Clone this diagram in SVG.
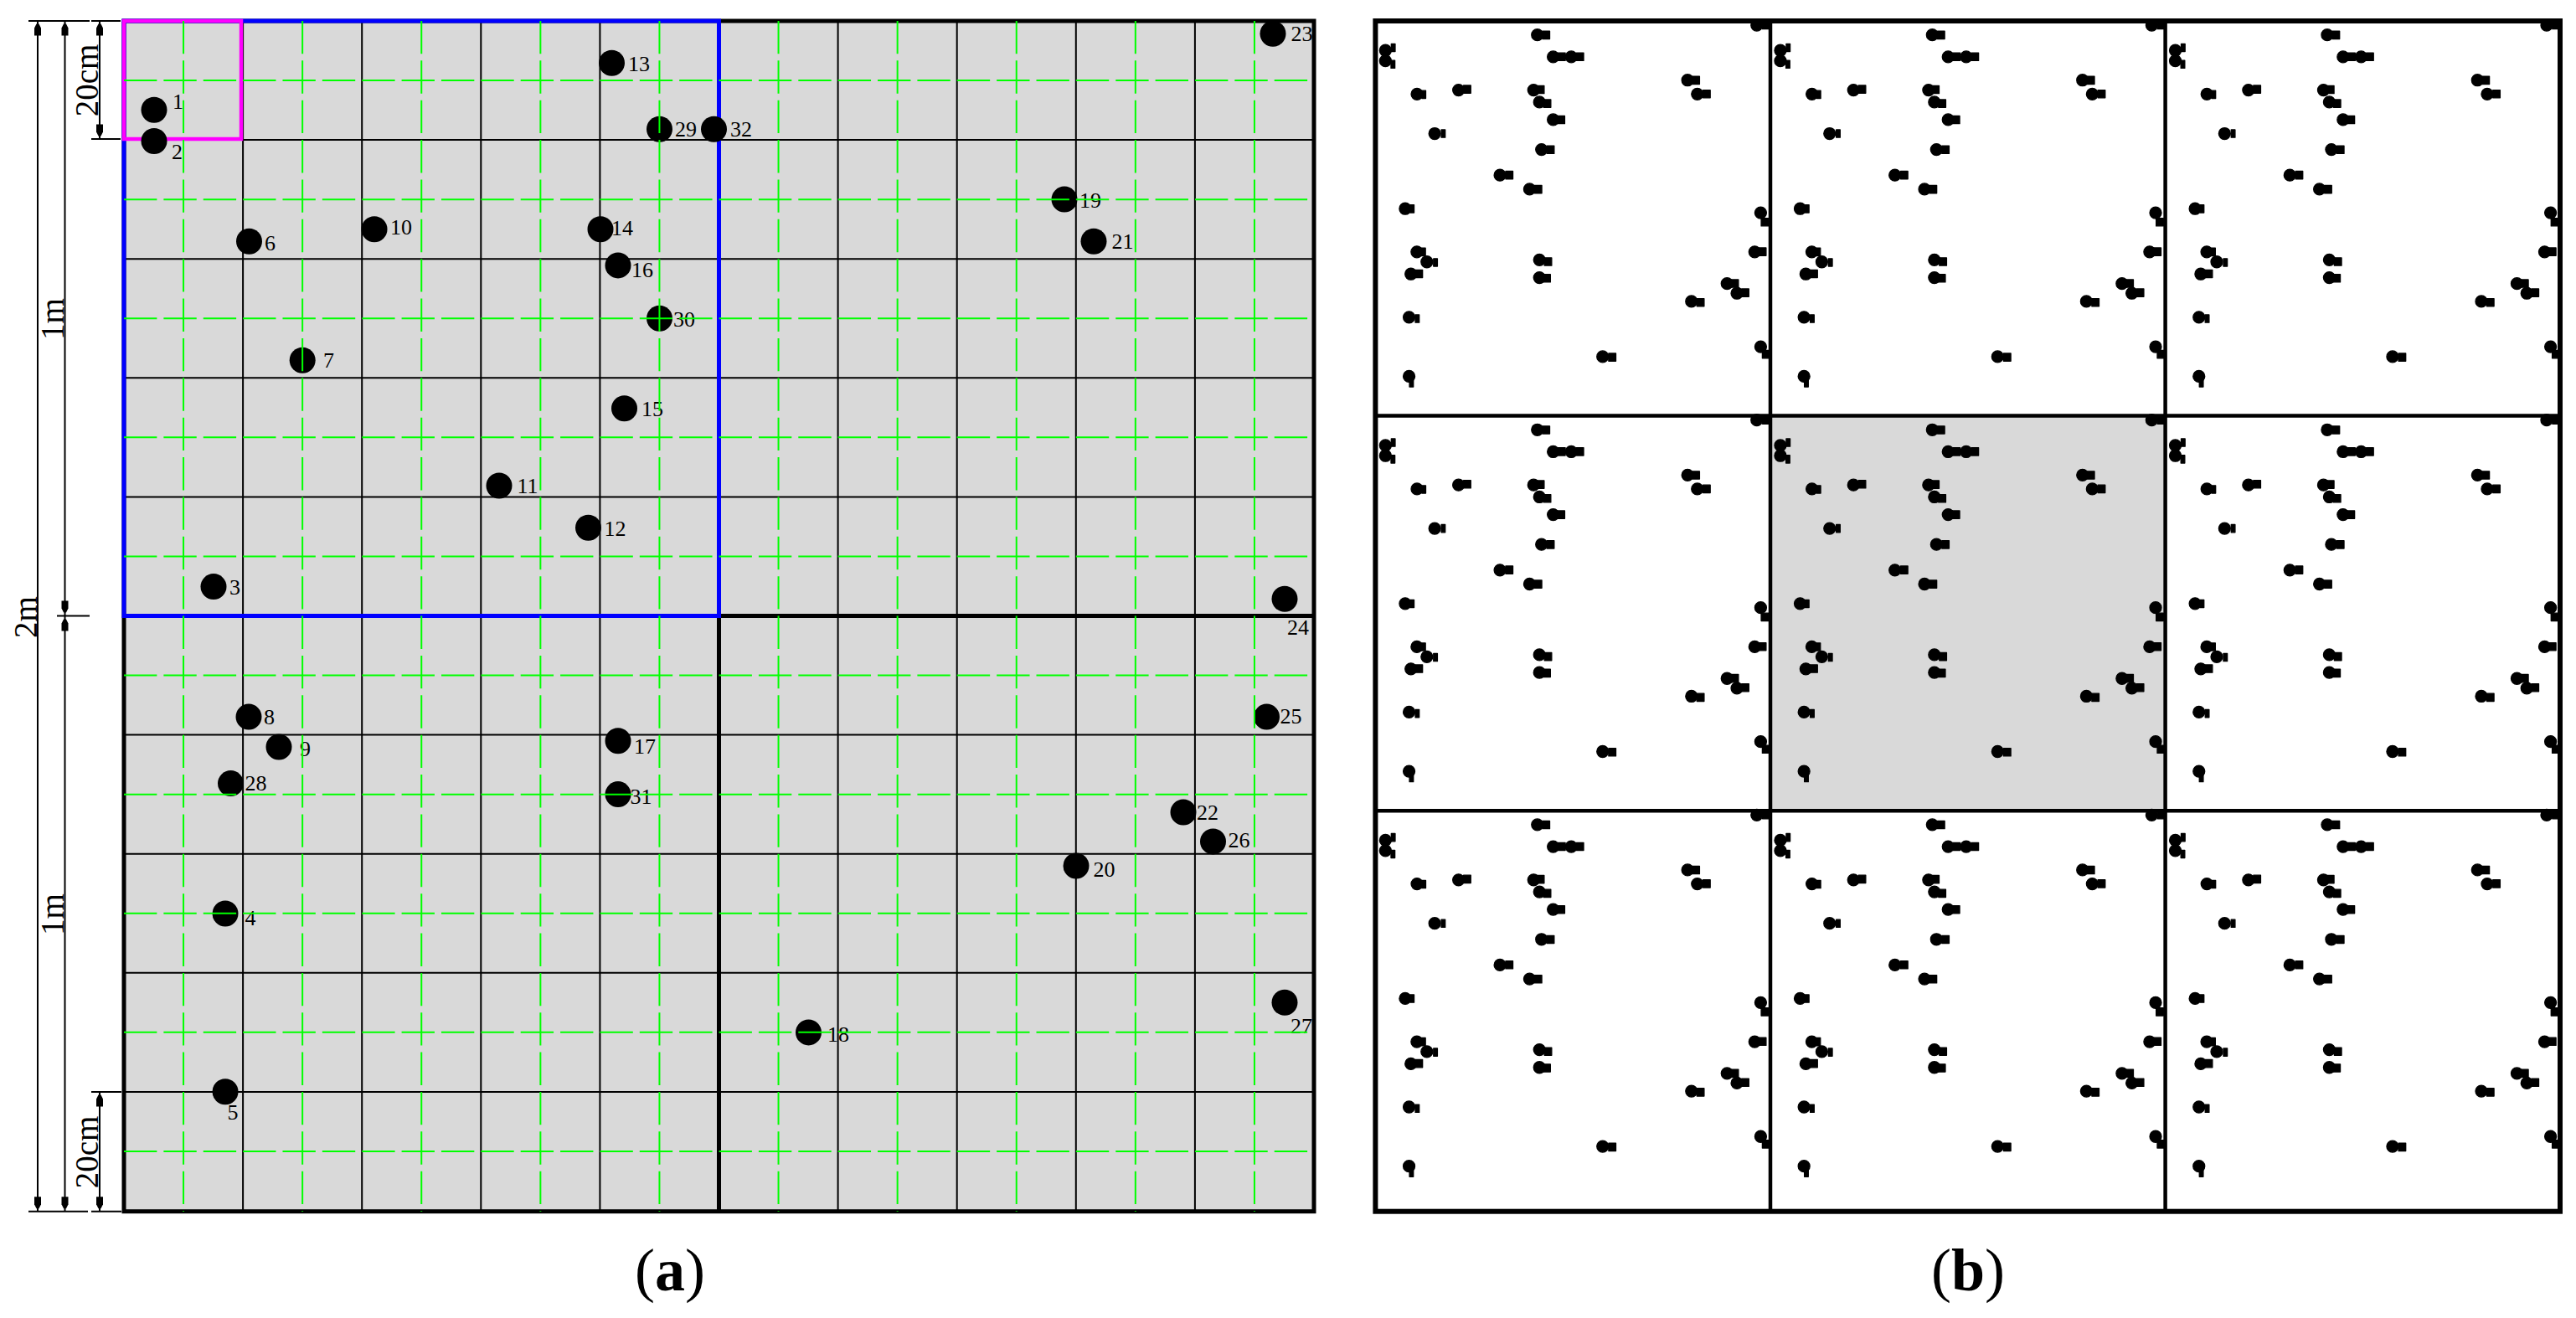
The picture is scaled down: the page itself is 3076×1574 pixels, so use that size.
<svg xmlns="http://www.w3.org/2000/svg" width="3076" height="1574" viewBox="0 0 3076 1574">
<style>
.grid{stroke:#000;stroke-width:2;fill:none}
.dash{stroke:#00ff00;stroke-width:2;fill:none;stroke-dasharray:39.37 8}
.thick{stroke:#000;stroke-width:5;fill:none}
.blue{stroke:#0000ff;stroke-width:5;fill:none}
.mag{stroke:#ff00ff;stroke-width:4.5;fill:none}
.dim{stroke:#000;stroke-width:2;fill:none}
.dot{fill:#000}
.lbl{font-family:"Liberation Serif","Times New Roman",serif;font-size:26px;fill:#000}
.dimt{font-family:"Liberation Serif","Times New Roman",serif;font-size:39px;fill:#000;text-anchor:middle}
.cap{font-family:"Liberation Serif","Times New Roman",serif;font-size:72px;fill:#000;text-anchor:middle}
.tile{stroke:#000;stroke-width:4.5;fill:none}
.tileo{stroke:#000;stroke-width:6;fill:none}
</style>
<defs>
<path id="ah" d="M-1.5 0H1.5L4 5V14H-4V5Z" fill="#000"/>
<g id="pat" transform="translate(-148,-25)" fill="#000" stroke="#000" stroke-width="4" stroke-linejoin="round">
<circle cx="184" cy="131.2" r="21"/><rect x="205" y="107.3" width="14" height="28"/>
<circle cx="184" cy="168.5" r="21"/><rect x="204" y="167" width="14" height="28"/>
<circle cx="255" cy="700.6" r="21"/><rect x="273" y="687" width="14" height="28"/>
<circle cx="269" cy="1091" r="21"/><rect x="291.5" y="1082.2" width="14" height="28"/>
<circle cx="269" cy="1303.8" r="21"/><rect x="270.5" y="1313.8" width="14" height="28"/>
<circle cx="297.5" cy="288.2" r="21"/><rect x="315" y="275.7" width="14" height="28"/>
<circle cx="361.2" cy="430.3" r="21"/><rect x="385" y="416.4" width="14" height="28"/>
<circle cx="297" cy="856.1" r="21"/><rect x="314" y="842.3" width="14" height="28"/>
<circle cx="333" cy="892" r="21"/><rect x="357" y="880.1" width="14" height="28"/>
<circle cx="447" cy="273.8" r="21"/><rect x="465" y="257" width="26" height="28"/>
<circle cx="596" cy="580" r="21"/><rect x="616.5" y="565.6" width="26" height="28"/>
<circle cx="702.5" cy="630.3" r="21"/><rect x="720.5" y="616.8" width="26" height="28"/>
<circle cx="730.5" cy="75.2" r="21"/><rect x="749" y="61.8" width="26" height="28"/>
<circle cx="717" cy="273.8" r="21"/><rect x="729" y="258" width="26" height="28"/>
<circle cx="745.5" cy="487.7" r="21"/><rect x="765" y="474.2" width="26" height="28"/>
<circle cx="738" cy="316.9" r="21"/><rect x="753" y="308.2" width="26" height="28"/>
<circle cx="738" cy="884.7" r="21"/><rect x="756" y="877.2" width="26" height="28"/>
<circle cx="965.5" cy="1232.9" r="21"/><rect x="987" y="1221.2" width="26" height="28"/>
<circle cx="1271" cy="238.1" r="21"/><rect x="1288" y="224.5" width="26" height="28"/>
<circle cx="1285" cy="1034" r="21"/><rect x="1304.5" y="1024" width="26" height="28"/>
<circle cx="1306" cy="288.2" r="21"/><rect x="1326.5" y="273.8" width="26" height="28"/>
<circle cx="1413" cy="970" r="21"/><rect x="1428" y="955.7" width="26" height="28"/>
<circle cx="1520" cy="40.3" r="21"/><rect x="1540.5" y="26" width="26" height="28"/>
<circle cx="1534" cy="715.2" r="21"/><rect x="1536" y="734.8" width="26" height="28"/>
<circle cx="1512.5" cy="856.1" r="21"/><rect x="1527.5" y="841.4" width="26" height="28"/>
<circle cx="1448.5" cy="1004.9" r="21"/><rect x="1465.5" y="989" width="26" height="28"/>
<circle cx="1534" cy="1197.2" r="21"/><rect x="1540" y="1210.6" width="26" height="28"/>
<circle cx="275.5" cy="935.6" r="21"/><rect x="291.5" y="920.8" width="26" height="28"/>
<circle cx="787.5" cy="154.2" r="21"/><rect x="805" y="139.8" width="26" height="28"/>
<circle cx="787.5" cy="380.3" r="21"/><rect x="803" y="366.6" width="26" height="28"/>
<circle cx="738" cy="948.6" r="21"/><rect x="751.5" y="936.8" width="26" height="28"/>
<circle cx="852.5" cy="154.2" r="21"/><rect x="871" y="139.8" width="26" height="28"/>
</g>
</defs>
<rect width="3076" height="1574" fill="#fff"/>

<!-- Panel (a) -->
<g id="panel-a">
<rect x="148" y="25" width="1421" height="1421.7" fill="#d9d9d9"/>
<path class="grid" d="M290.1 25V1446.7M432.2 25V1446.7M574.3 25V1446.7M716.4 25V1446.7M1000.6 25V1446.7M1142.7 25V1446.7M1284.8 25V1446.7M1426.9 25V1446.7M858.5 25V735.5
M148 167.1H1569M148 309.2H1569M148 451.3H1569M148 593.4H1569M148 877.6H1569M148 1019.7H1569M148 1161.8H1569M148 1303.9H1569M148 735.5H858.5"/>
<rect class="thick" x="148" y="25" width="1421" height="1421.7"/>
<path class="thick" d="M858.5 735.5V1446.7M858.5 735.5H1569"/>
<rect class="blue" x="148" y="25" width="710.5" height="710.5"/>
<rect class="mag" x="148" y="25" width="140" height="141"/>
</g>

<g id="nodes">
<g id="n1"><circle class="dot" cx="184" cy="131.2" r="15.5"/><text class="lbl" x="206" y="130.3">1</text></g>
<g id="n2"><circle class="dot" cx="184" cy="168.5" r="15.5"/><text class="lbl" x="205" y="190">2</text></g>
<g id="n3"><circle class="dot" cx="255" cy="700.6" r="15.5"/><text class="lbl" x="274" y="710">3</text></g>
<g id="n4"><circle class="dot" cx="269" cy="1091" r="15.5"/><text class="lbl" x="292.5" y="1105.2">4</text></g>
<g id="n5"><circle class="dot" cx="269" cy="1303.8" r="15.5"/><text class="lbl" x="271.5" y="1336.8">5</text></g>
<g id="n6"><circle class="dot" cx="297.5" cy="288.2" r="15.5"/><text class="lbl" x="316" y="298.7">6</text></g>
<g id="n7"><circle class="dot" cx="361.2" cy="430.3" r="15.5"/><text class="lbl" x="386" y="439.4">7</text></g>
<g id="n8"><circle class="dot" cx="297" cy="856.1" r="15.5"/><text class="lbl" x="315" y="865.3">8</text></g>
<g id="n9"><circle class="dot" cx="333" cy="892" r="15.5"/><text class="lbl" x="358" y="903.1">9</text></g>
<g id="n10"><circle class="dot" cx="447" cy="273.8" r="15.5"/><text class="lbl" x="466" y="280">10</text></g>
<g id="n11"><circle class="dot" cx="596" cy="580" r="15.5"/><text class="lbl" x="617.5" y="588.6">11</text></g>
<g id="n12"><circle class="dot" cx="702.5" cy="630.3" r="15.5"/><text class="lbl" x="721.5" y="639.8">12</text></g>
<g id="n13"><circle class="dot" cx="730.5" cy="75.2" r="15.5"/><text class="lbl" x="750" y="84.8">13</text></g>
<g id="n14"><circle class="dot" cx="717" cy="273.8" r="15.5"/><text class="lbl" x="730" y="281">14</text></g>
<g id="n15"><circle class="dot" cx="745.5" cy="487.7" r="15.5"/><text class="lbl" x="766" y="497.2">15</text></g>
<g id="n16"><circle class="dot" cx="738" cy="316.9" r="15.5"/><text class="lbl" x="754" y="331.2">16</text></g>
<g id="n17"><circle class="dot" cx="738" cy="884.7" r="15.5"/><text class="lbl" x="757" y="900.2">17</text></g>
<g id="n18"><circle class="dot" cx="965.5" cy="1232.9" r="15.5"/><text class="lbl" x="988" y="1244.2">18</text></g>
<g id="n19"><circle class="dot" cx="1271" cy="238.1" r="15.5"/><text class="lbl" x="1289" y="247.5">19</text></g>
<g id="n20"><circle class="dot" cx="1285" cy="1034" r="15.5"/><text class="lbl" x="1305.5" y="1047">20</text></g>
<g id="n21"><circle class="dot" cx="1306" cy="288.2" r="15.5"/><text class="lbl" x="1327.5" y="296.8">21</text></g>
<g id="n22"><circle class="dot" cx="1413" cy="970" r="15.5"/><text class="lbl" x="1429" y="978.7">22</text></g>
<g id="n23"><circle class="dot" cx="1520" cy="40.3" r="15.5"/><text class="lbl" x="1541.5" y="49">23</text></g>
<g id="n24"><circle class="dot" cx="1534" cy="715.2" r="15.5"/><text class="lbl" x="1537" y="757.8">24</text></g>
<g id="n25"><circle class="dot" cx="1512.5" cy="856.1" r="15.5"/><text class="lbl" x="1528.5" y="864.4">25</text></g>
<g id="n26"><circle class="dot" cx="1448.5" cy="1004.9" r="15.5"/><text class="lbl" x="1466.5" y="1012">26</text></g>
<g id="n27"><circle class="dot" cx="1534" cy="1197.2" r="15.5"/><text class="lbl" x="1541" y="1233.6">27</text></g>
<g id="n28"><circle class="dot" cx="275.5" cy="935.6" r="15.5"/><text class="lbl" x="292.5" y="943.8">28</text></g>
<g id="n29"><circle class="dot" cx="787.5" cy="154.2" r="15.5"/><text class="lbl" x="806" y="162.8">29</text></g>
<g id="n30"><circle class="dot" cx="787.5" cy="380.3" r="15.5"/><text class="lbl" x="804" y="389.6">30</text></g>
<g id="n31"><circle class="dot" cx="738" cy="948.6" r="15.5"/><text class="lbl" x="752.5" y="959.8">31</text></g>
<g id="n32"><circle class="dot" cx="852.5" cy="154.2" r="15.5"/><text class="lbl" x="872" y="162.8">32</text></g>
</g>

<g id="green-grid">
<path class="dash" d="M219.05 25V1446.7M361.15 25V1446.7M503.25 25V1446.7M645.35 25V1446.7M787.45 25V1446.7M929.55 25V1446.7M1071.65 25V1446.7M1213.75 25V1446.7M1355.85 25V1446.7M1497.95 25V1446.7"/>
<path class="dash" d="M148 96.05H1569M148 238.15H1569M148 380.25H1569M148 522.35H1569M148 664.45H1569M148 806.55H1569M148 948.65H1569M148 1090.75H1569M148 1232.85H1569M148 1374.95H1569"/>
</g>

<g id="dimensions">
<path class="dim" d="M45 25V1446.7M77.5 25V1446.7M119 25V166M119 1303.9V1446.7M34 25H107M109 25H144M109 166H144M68 735.5H107M109 1303.9H145M34 1446.7H105M109 1446.7H145"/>
<use href="#ah" transform="translate(45,28.5)"/>
<use href="#ah" transform="translate(77.5,28.5)"/>
<use href="#ah" transform="translate(119,28.5)"/>
<use href="#ah" transform="translate(119,162.5) rotate(180)"/>
<use href="#ah" transform="translate(77.5,731.5) rotate(180)"/>
<use href="#ah" transform="translate(77.5,739.5)"/>
<use href="#ah" transform="translate(119,1307.4)"/>
<use href="#ah" transform="translate(45,1443.2) rotate(180)"/>
<use href="#ah" transform="translate(77.5,1443.2) rotate(180)"/>
<use href="#ah" transform="translate(119,1443.2) rotate(180)"/>
<text class="dimt" transform="translate(117,96) rotate(-90)">20cm</text>
<text class="dimt" transform="translate(76,381) rotate(-90)">1m</text>
<text class="dimt" transform="translate(44,737) rotate(-90)">2m</text>
<text class="dimt" transform="translate(76,1092) rotate(-90)">1m</text>
<text class="dimt" transform="translate(117,1376) rotate(-90)">20cm</text>
</g>

<!-- Panel (b) -->
<g id="panel-b">
<rect x="2114" y="496.6" width="471.6" height="471.6" fill="#d9d9d9"/>
<use href="#pat" transform="translate(1642.4,25) scale(0.3319)"/>
<use href="#pat" transform="translate(2114,25) scale(0.3319)"/>
<use href="#pat" transform="translate(2585.6,25) scale(0.3319)"/>
<use href="#pat" transform="translate(1642.4,496.6) scale(0.3319)"/>
<use href="#pat" transform="translate(2114,496.6) scale(0.3319)"/>
<use href="#pat" transform="translate(2585.6,496.6) scale(0.3319)"/>
<use href="#pat" transform="translate(1642.4,968.2) scale(0.3319)"/>
<use href="#pat" transform="translate(2114,968.2) scale(0.3319)"/>
<use href="#pat" transform="translate(2585.6,968.2) scale(0.3319)"/>
<path class="tile" d="M2114 25V1446.7M2585.6 25V1446.7M1642.4 496.6H3057M1642.4 968.2H3057"/>
<rect class="tileo" x="1642.4" y="25" width="1414.6" height="1421.7"/>
</g>

<g id="captions">
<text class="cap" x="800" y="1541">(<tspan font-weight="bold">a</tspan>)</text>
<text class="cap" x="2350" y="1541">(<tspan font-weight="bold">b</tspan>)</text>
</g>
</svg>
